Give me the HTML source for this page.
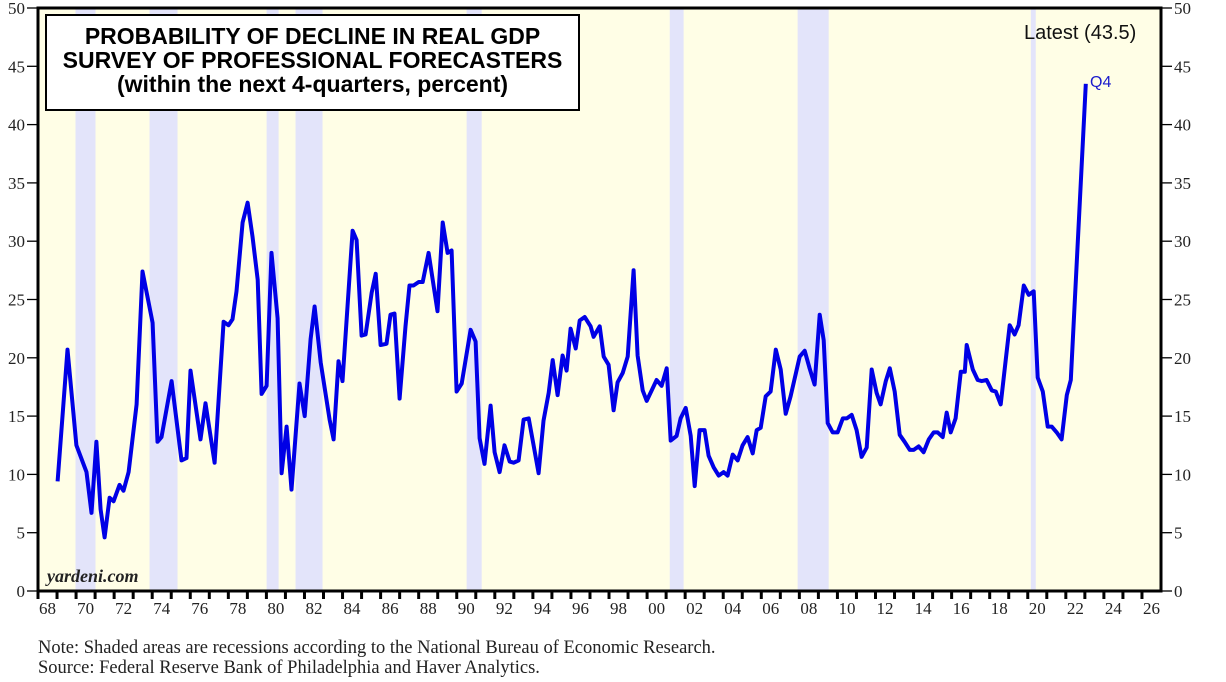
<!DOCTYPE html>
<html><head><meta charset="utf-8"><style>
body{margin:0;background:#fff;}
svg{display:block;font-family:"Liberation Serif",serif;}
</style></head><body>
<svg id="c" width="1226" height="682"></svg>
<script>
const years=[1969.03,1969.55,1970.02,1970.55,1970.81,1971.07,1971.29,1971.50,1971.76,1971.97,1972.28,1972.49,1972.76,1973.18,1973.49,1974.02,1974.28,1974.49,1975.02,1975.54,1975.80,1976.01,1976.54,1976.80,1977.28,1977.75,1978.01,1978.22,1978.43,1978.75,1979.01,1979.27,1979.54,1979.75,1980.01,1980.27,1980.59,1980.80,1981.06,1981.32,1981.74,1982.01,1982.32,1982.53,1982.85,1983.32,1983.53,1983.79,1984.00,1984.53,1984.74,1985.00,1985.21,1985.53,1985.74,1986.00,1986.31,1986.52,1986.73,1987.00,1987.31,1987.52,1987.73,1988.00,1988.21,1988.52,1988.99,1989.26,1989.52,1989.73,1989.99,1990.26,1990.73,1990.99,1991.20,1991.46,1991.78,1991.99,1992.25,1992.51,1992.78,1992.99,1993.25,1993.51,1993.78,1994.04,1994.30,1994.56,1994.83,1995.04,1995.30,1995.56,1995.77,1995.98,1996.25,1996.46,1996.72,1997.03,1997.19,1997.51,1997.72,1997.98,1998.24,1998.45,1998.72,1998.98,1999.29,1999.50,1999.77,1999.98,2000.24,2000.50,2000.76,2001.03,2001.24,2001.55,2001.76,2002.03,2002.29,2002.50,2002.76,2003.02,2003.23,2003.50,2003.76,2004.02,2004.23,2004.50,2004.76,2005.02,2005.28,2005.55,2005.76,2005.97,2006.23,2006.49,2006.76,2007.02,2007.28,2007.54,2007.81,2008.02,2008.28,2008.54,2008.80,2009.07,2009.28,2009.49,2009.75,2010.01,2010.28,2010.49,2010.75,2011.01,2011.27,2011.54,2011.80,2012.06,2012.27,2012.54,2012.75,2013.01,2013.27,2013.53,2013.80,2014.01,2014.27,2014.53,2014.80,2015.06,2015.27,2015.53,2015.74,2015.95,2016.21,2016.48,2016.69,2016.79,2017.11,2017.37,2017.58,2017.84,2018.11,2018.32,2018.58,2018.84,2019.05,2019.31,2019.52,2019.79,2020.05,2020.31,2020.52,2020.79,2021.05,2021.26,2021.52,2021.78,2022.05,2022.26,2023.05];
const values=[9.4,20.7,12.5,10.2,6.7,12.8,7.0,4.6,8.0,7.7,9.1,8.6,10.2,16.0,27.4,23.0,12.8,13.2,18.0,11.2,11.4,18.9,13.0,16.1,11.0,23.1,22.8,23.3,25.7,31.6,33.3,30.4,26.7,16.9,17.6,29.0,23.4,10.1,14.1,8.7,17.8,15.0,21.6,24.4,19.6,14.7,13.0,19.7,18.0,30.9,30.1,21.9,22.0,25.6,27.2,21.1,21.2,23.7,23.8,16.5,22.7,26.2,26.2,26.5,26.5,29.0,24.0,31.6,29.0,29.2,17.1,17.8,22.4,21.4,13.1,10.9,15.9,11.9,10.2,12.5,11.1,11.0,11.2,14.7,14.8,12.5,10.1,14.6,17.0,19.8,16.8,20.2,18.9,22.5,20.8,23.2,23.5,22.7,21.8,22.7,20.1,19.4,15.5,17.9,18.7,20.1,27.5,20.2,17.2,16.3,17.2,18.1,17.6,19.1,12.9,13.3,14.8,15.7,13.3,9.0,13.8,13.8,11.6,10.6,9.9,10.2,9.9,11.7,11.2,12.5,13.2,11.8,13.8,14.0,16.7,17.1,20.7,19.0,15.2,16.7,18.6,20.1,20.6,19.1,17.7,23.7,21.5,14.4,13.6,13.6,14.8,14.8,15.1,13.8,11.5,12.3,19.0,17.0,16.0,18.0,19.1,17.1,13.4,12.8,12.1,12.1,12.4,11.9,13.0,13.6,13.6,13.2,15.3,13.6,14.8,18.8,18.8,21.1,19.0,18.1,18.0,18.1,17.2,17.1,16.0,19.8,22.8,22.0,22.8,26.2,25.4,25.7,18.3,17.1,14.1,14.1,13.6,13.0,16.8,18.1,43.5];
const recStart=[1969.97,1973.86,1980.01,1981.53,1990.52,2001.19,2007.91,2020.16];
const recEnd=[1971.02,1975.33,1980.64,1982.95,1991.31,2001.92,2009.54,2020.42];
const yTicks=[0,5,10,15,20,25,30,35,40,45,50];
const xLabels=['68','70','72','74','76','78','80','82','84','86','88','90','92','94','96','98','00','02','04','06','08','10','12','14','16','18','20','22','24','26'];

const NS='http://www.w3.org/2000/svg';
const svg=document.getElementById('c');
const L=38,R=1161,T=8,B=591,X0=1968,X1=2027;
const xs=v=>L+(v-X0)*(R-L)/(X1-X0);
const ys=v=>B-(v/50)*(B-T);
function el(tag,attrs,parent){const e=document.createElementNS(NS,tag);for(const k in attrs)e.setAttribute(k,attrs[k]);(parent||svg).appendChild(e);return e;}

const bg=el('rect',{x:L,y:T,width:R-L,height:B-T,fill:'#fffee6'});


recStart.forEach((s,i)=>{
  const r=el('rect',{x:xs(s),y:T,width:xs(recEnd[i])-xs(s),height:B-T,fill:'#e3e4fa'});
  
  
});
yTicks.forEach(v=>{
  const y=ys(v);
  el('line',{x1:L-11,x2:L,y1:y,y2:y,stroke:'#000','stroke-width':1.3});
  el('line',{x1:R,x2:R+11,y1:y,y2:y,stroke:'#000','stroke-width':1.3});
  const t1=el('text',{x:L-13,y:y+6,'text-anchor':'end','font-size':17,fill:'#222'});t1.textContent=v;
  
  
  const t2=el('text',{x:R+13,y:y+6,'font-size':17,fill:'#222'});t2.textContent=v;
  
  
});
for(let yr=X0;yr<X1;yr++){
  el('line',{x1:xs(yr),x2:xs(yr),y1:B,y2:B+8,stroke:'#000','stroke-width':3});
}
xLabels.forEach((lab,i)=>{
  const t=el('text',{x:xs(1968.5+2*i),y:614,'text-anchor':'middle','font-size':17,fill:'#222'});t.textContent=lab;
  
  
});
const pts=years.map((y,i)=>xs(y).toFixed(1)+','+ys(values[i]).toFixed(1)).join(' ');
const line=el('polyline',{points:pts,fill:'none',stroke:'#0000e6','stroke-width':4,'stroke-linejoin':'round'});


const fr=el('rect',{x:L,y:T,width:R-L,height:B-T,fill:'none',stroke:'#000','stroke-width':3});


</script>
<div style="position:absolute;left:45px;top:14px;width:531px;height:85px;border:2px solid #000;background:#fff;font-family:'Liberation Sans',sans-serif;font-weight:bold;font-size:23px;text-align:center;line-height:24px;padding-top:8px;">
<div>PROBABILITY OF DECLINE IN REAL GDP</div>
<div>SURVEY OF PROFESSIONAL FORECASTERS</div>
<div>(within the next 4-quarters, percent)</div>
</div>
<div style="position:absolute;left:1024px;top:22px;font-family:'Liberation Sans',sans-serif;font-size:20px;color:#111;">Latest (43.5)</div>
<div style="position:absolute;left:1090px;top:74px;font-family:'Liberation Sans',sans-serif;font-size:16px;color:#1a1acc;">Q4</div>
<div style="position:absolute;left:47px;top:566px;font-family:'Liberation Serif',serif;font-style:italic;font-weight:bold;font-size:18px;color:#222;">yardeni.com</div>
<div style="position:absolute;left:38px;top:638px;font-family:'Liberation Serif',serif;font-size:18.5px;line-height:20px;color:#222;">Note: Shaded areas are recessions according to the National Bureau of Economic Research.<br>Source: Federal Reserve Bank of Philadelphia and Haver Analytics.</div>
</body></html>
